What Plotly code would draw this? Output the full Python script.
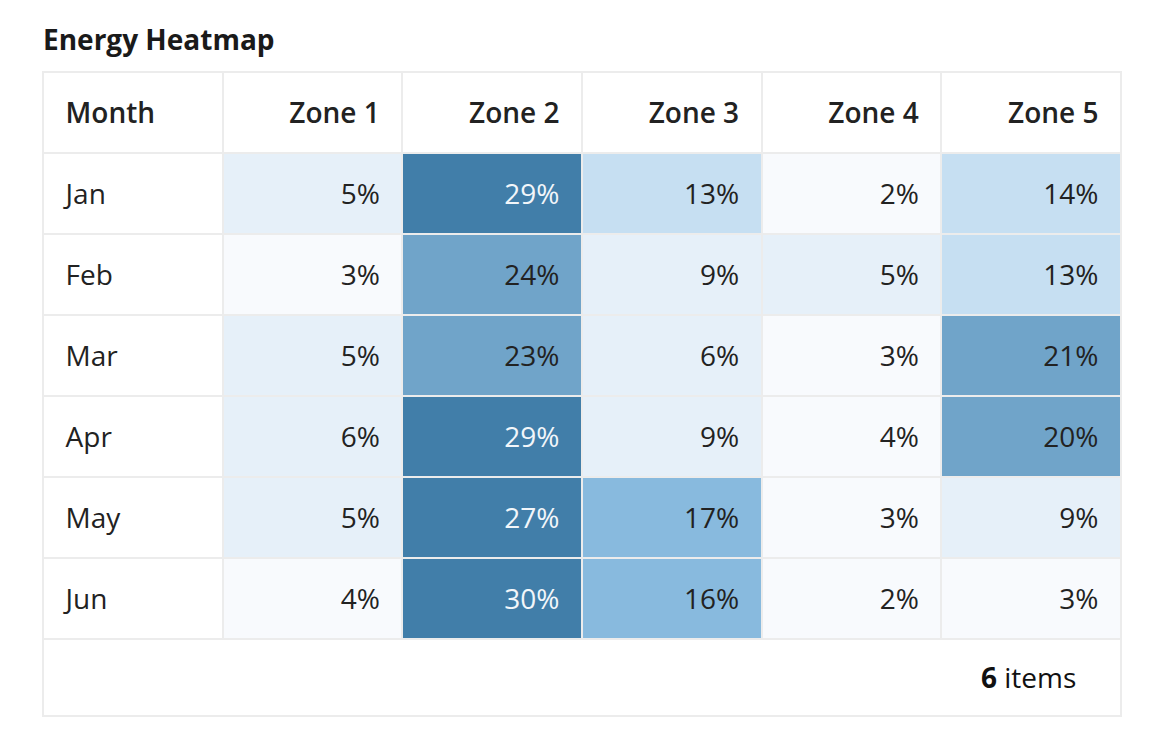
"""
Energy heatmap table: monthly share per zone.
"""

import plotly.graph_objects as go

### DATA
months = ['Jan', 'Feb', 'Mar', 'Apr', 'May', 'Jun']
zones = ['Zone 1', 'Zone 2', 'Zone 3', 'Zone 4', 'Zone 5']

zone_1 = [5, 3, 5, 6, 5, 4]
zone_2 = [29, 24, 23, 29, 27, 30]
zone_3 = [13, 9, 6, 9, 17, 16]
zone_4 = [2, 5, 3, 4, 3, 2]
zone_5 = [14, 13, 21, 20, 9, 3]

item_count = len(months)

### STYLE
# the page body has an 8px margin, so the figure sits at (8, 8)
OFF = 8
W, H = 1174 - 2 * OFF, 742 - 2 * OFF
LEFT, RIGHT = 43 - OFF, 1121 - OFF
TOP = 72 - OFF
FOOT_BOTTOM = 716 - OFF
HEAD_H = 81
ROW_H = 81
TEXT_SHIFT = 22     # pushes text down to sit mid-cell
TEXT_HEAD_H = 81    # header height in the text layer
BORDER = '#ececec'
TEXT = '#222222'
FONT = 'Open Sans'
FS = 28

# quantized blues: (lower bound, fill)
BINS = [
    (25, '#417ea9'),
    (20, '#70a4c9'),
    (15, '#88bade'),
    (10, '#c6dff2'),
    (5, '#e6f0f9'),
    (0, '#f8fafd'),
]


def cell_fill(v):
    for lo, col in BINS:
        if v >= lo:
            return col
    return BINS[-1][1]


def text_color(v):
    return '#f2f6fa' if v >= 25 else TEXT


def py(px):
    """pixel row -> paper y"""
    return 1 - px / H


series = [zone_1, zone_2, zone_3, zone_4, zone_5]
pad = '\u00a0\u00a0'
n_cols = len(zones) + 1

fills = [['white'] * len(months)] + [[cell_fill(v) for v in s] for s in series]
font_colors = [[TEXT] * len(months)] + [[text_color(v) for v in s] for s in series]

fig = go.Figure()

# background grid: fills and borders only
fig.add_trace(go.Table(
    columnwidth=[1] * n_cols,
    domain={'x': [LEFT / W, RIGHT / W], 'y': [py(FOOT_BOTTOM), py(TOP)]},
    header={
        'values': [''] * n_cols,
        'height': HEAD_H,
        'fill': {'color': 'white'},
        'line': {'color': BORDER, 'width': 2},
    },
    cells={
        'values': [[''] * len(months)] * n_cols,
        'height': ROW_H,
        'fill': {'color': fills},
        'line': {'color': BORDER, 'width': 2},
    },
    hoverinfo='skip',
))

# text layer, shifted down so it is centred in the cells
fig.add_trace(go.Table(
    columnwidth=[1] * n_cols,
    domain={'x': [LEFT / W, RIGHT / W], 'y': [py(FOOT_BOTTOM), py(TOP + TEXT_SHIFT)]},
    header={
        'values': [pad + 'Month'] + [z + pad for z in zones],
        'align': ['left'] + ['right'] * len(zones),
        'height': TEXT_HEAD_H,
        'fill': {'color': 'rgba(0,0,0,0)'},
        'line': {'color': 'rgba(0,0,0,0)', 'width': 0},
        'font': {'family': FONT, 'size': FS, 'color': TEXT, 'weight': 600},
    },
    cells={
        'values': [months] + series,
        'prefix': [pad] + [''] * len(zones),
        'suffix': [''] + ['%' + pad] * len(zones),
        'align': ['left'] + ['right'] * len(zones),
        'height': ROW_H,
        'fill': {'color': 'rgba(0,0,0,0)'},
        'line': {'color': 'rgba(0,0,0,0)', 'width': 0},
        'font': {'family': FONT, 'size': FS, 'color': font_colors},
    },
))

# footer box with item count
foot_top = TOP + HEAD_H + ROW_H * len(months)
fig.add_shape(
    type='rect', xref='paper', yref='paper',
    x0=LEFT / W, x1=RIGHT / W,
    y0=py(FOOT_BOTTOM), y1=py(foot_top),
    line={'color': BORDER, 'width': 2},
    fillcolor='white', layer='below',
)
fig.add_annotation(
    x=(1078 - OFF) / W, y=py((foot_top + FOOT_BOTTOM) / 2 - 1),
    xref='paper', yref='paper', xanchor='right', yanchor='middle',
    text='<b>%d</b> items' % item_count, showarrow=False,
    font={'family': FONT, 'size': FS, 'color': '#111111'},
)

fig.update_layout(
    width=W,
    height=H,
    margin={'l': 0, 'r': 0, 't': 0, 'b': 0},
    paper_bgcolor='white',
    plot_bgcolor='white',
    title={
        'text': '<b>Energy Heatmap</b>',
        'x': LEFT / W, 'xanchor': 'left',
        'y': py(40 - OFF), 'yanchor': 'middle',
        'font': {'family': FONT, 'size': FS, 'color': '#1a1a1a'},
    },
)

fig.write_html('out.html')
